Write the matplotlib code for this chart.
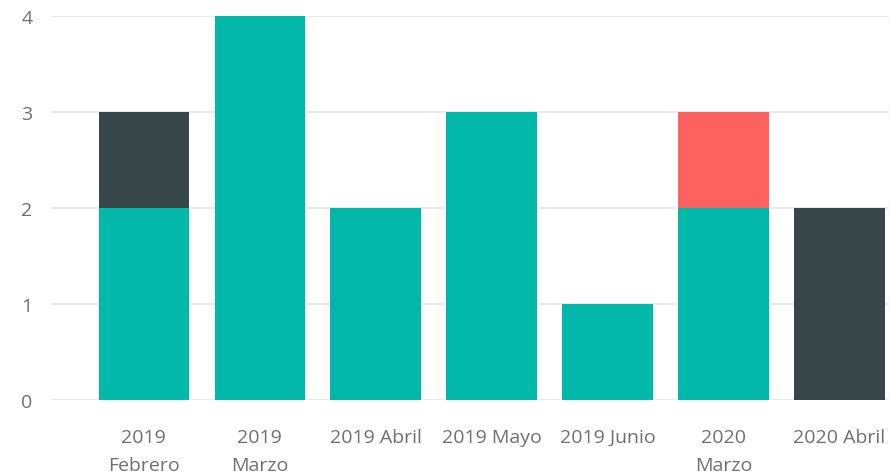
import numpy as np
import matplotlib.pyplot as plt

categories = ["2019\nFebrero", "2019\nMarzo", "2019 Abril", "2019 Mayo",
              "2019 Junio", "2020\nMarzo", "2020 Abril"]
teal_vals = [2, 4, 2, 3, 1, 2, 0]
dark_vals = [1, 0, 0, 0, 0, 0, 2]
red_vals = [0, 0, 0, 0, 0, 1, 0]
yticks = [0, 1, 2, 3, 4]

plt.rcParams['font.family'] = ['Open Sans', 'DejaVu Sans']

fig = plt.figure(figsize=(8.89, 4.77), dpi=100)
ax = fig.add_axes([52 / 889, 1 - 401 / 477, 1 - 52 / 889, (401 - 16.5) / 477])

x = np.arange(len(categories))
w = 0.78
teal = np.array(teal_vals)
dark = np.array(dark_vals)
red = np.array(red_vals)
ax.bar(x, teal, w, color="#01B8AA", zorder=2)
ax.bar(x, dark, w, bottom=teal, color="#374649", zorder=2)
ax.bar(x, red, w, bottom=teal + dark, color="#FD625E", zorder=2)

ax.set_xlim(-0.792, 6.427)
ax.set_ylim(0, 4)
ax.set_yticks(yticks)
ax.set_xticks(x)
ax.set_xticklabels(categories, linespacing=1.7)
ax.grid(axis="y", color="#e9e9e9", linewidth=1.5, zorder=0)
ax.tick_params(axis="y", length=0, pad=14, labelsize=14, labelcolor="#707070")
ax.tick_params(axis="x", length=0, pad=20, labelsize=14, labelcolor="#707070")
for s in ax.spines.values():
    s.set_visible(False)

fig.savefig("out.png", dpi=100)
